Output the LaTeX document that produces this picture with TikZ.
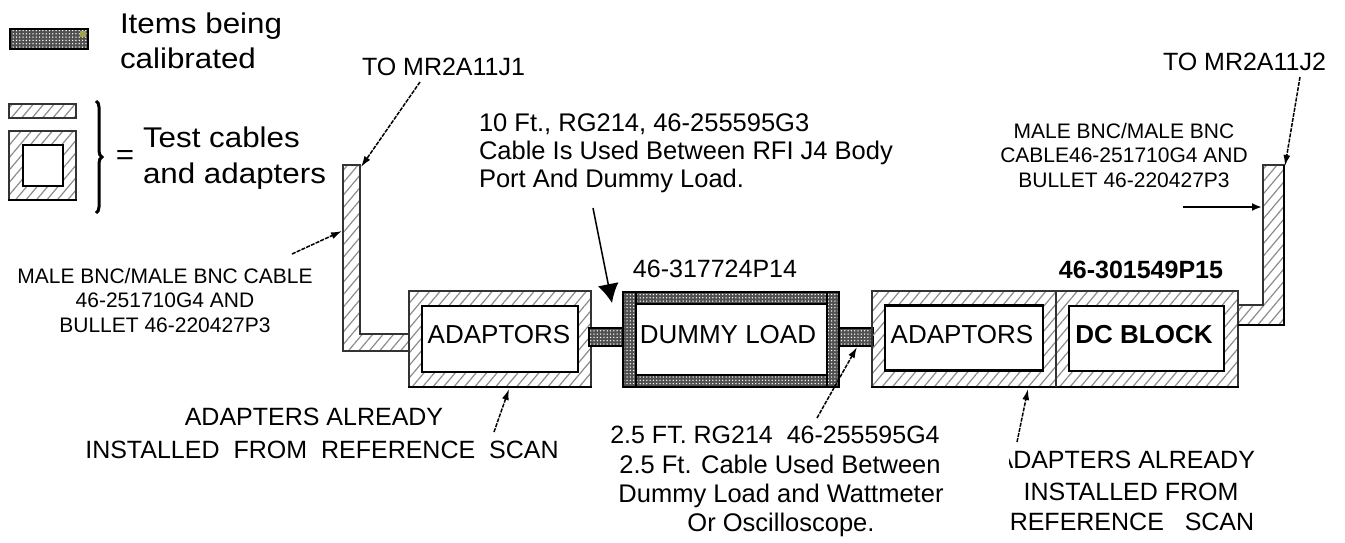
\documentclass[tikz,border=0pt]{standalone}
\usepackage{fontspec}
\setmainfont{Liberation Sans}
\newfontfamily\legfamily[FakeStretch=1.1]{Liberation Sans}
\usetikzlibrary{patterns.meta,arrows.meta,decorations.pathreplacing}
\definecolor{hatchgray}{HTML}{8C8C8C}
\definecolor{dotdark}{HTML}{505050}
\definecolor{edgegray}{HTML}{333333}
\definecolor{olive}{HTML}{A3A24A}
\newcommand{\tfleg}{\legfamily\fontsize{28.5}{32}\selectfont}
\newcommand{\tfdesc}{\fontsize{25.5}{30}\selectfont}
\newcommand{\tfcad}{\fontsize{25}{30}\selectfont}
\newcommand{\tfsmall}{\fontsize{21}{25}\selectfont}
\newcommand{\tfbox}{\fontsize{26}{30}\selectfont}
\tikzset{
  hatchbox/.style={draw=edgegray, line width=1.1pt, inner sep=0pt, outer sep=0pt,
    pattern={Lines[angle=50,distance=8pt,line width=1.2pt]}, pattern color=hatchgray},
  dotbox/.style={draw=black, line width=1.6pt, inner sep=0pt, outer sep=0pt,
    preaction={fill=dotdark}, pattern={Dots[radius=0.75pt,distance=3.3pt]}, pattern color=white},
  innerbox/.style={draw=black, line width=2.5pt, fill=white, inner sep=0pt, outer sep=0pt},
  txt/.style={inner sep=0pt, outer sep=0pt, anchor=base},
  callout/.style={line width=1.5pt, dash pattern=on 4pt off 1.2pt, -{Latex[length=11pt,width=7pt]}},
  bigcallout/.style={line width=1.5pt, -{Latex[length=19pt,width=21pt]}},
  solidcallout/.style={line width=2pt, -{Latex[length=10pt,width=8pt]}},
  heavyedge/.style={line width=2.6pt, line cap=rect}
}
\begin{document}
\begin{tikzpicture}[x=1pt,y=-1pt]
\useasboundingbox (0,0) rectangle (1345,542);
\fill[white] (0,0) rectangle (1345,542);

% ---------- legend ----------
\node[dotbox, minimum width=78pt, minimum height=20pt] (legdot) at (49,39) {};
\fill[olive] (80,31) rectangle (86,37);
\node[txt, anchor=base west, font=\tfleg] (legt1) at (120,33) {Items being};
\node[txt, anchor=base west, font=\tfleg] (legt2) at (120,68) {calibrated};
\node[hatchbox, minimum width=67pt, minimum height=14pt] (leghbar) at (42.5,111) {};
\node[hatchbox, minimum width=67pt, minimum height=69pt] (leghsq) at (42.5,165.5) {};
\draw[heavyedge] (leghsq.south west) -- (leghsq.south east);
\node[innerbox, line width=2pt, minimum width=40pt, minimum height=41pt] (leghin) at (43,165.5) {};
\coordinate (bracetop) at (96,101);
\coordinate (bracebot) at (96,213);
\draw[line width=3pt, decorate, decoration={brace, amplitude=6pt}] (bracetop) -- (bracebot);
\node[txt, font=\tfleg] (legeq) at (125,164) {=};
\node[txt, anchor=base west, font=\tfleg] (legt3) at (143,147) {Test cables};
\node[txt, anchor=base west, font=\tfleg] (legt4) at (143,183) {and adapters};

% ---------- left cable ----------
\draw[hatchbox] (343,165) -- (360,165) -- (360,334) -- (409,334) -- (409,351) -- (343,351) -- cycle;

% ---------- left adaptor box ----------
\node[hatchbox, minimum width=182pt, minimum height=96pt] (ad1) at (500,339) {};
\draw[heavyedge] (ad1.south west) -- (ad1.south east);
\node[innerbox, minimum width=156pt, minimum height=66pt] (ad1in) at (500,339) {};
\node[txt, font=\tfbox] (ad1t) at (499,343) {ADAPTORS};

% ---------- cables being calibrated ----------
\node[dotbox, line width=1.2pt, minimum width=34pt, minimum height=18pt] (cab1) at (606,337) {};
\node[dotbox, line width=1.2pt, minimum width=34pt, minimum height=18pt] (cab2) at (856,337) {};

% ---------- dummy load ----------
\node[dotbox, line width=2pt, minimum width=216pt, minimum height=95pt] (dl) at (731,339.5) {};
\node[innerbox, minimum width=191pt, minimum height=71pt] (dlin) at (731.5,339.5) {};
\draw[line width=2pt] (dlin.north west |- dl.north) -- (dlin.south west |- dl.south);
\draw[line width=2pt] (dlin.north east |- dl.north) -- (dlin.south east |- dl.south);
\node[txt, font=\tfbox] (dlt) at (728,343) {DUMMY LOAD};
\node[txt, font=\tfcad] (dlpn) at (715,277) {46-317724P14};

% ---------- right adaptor + DC block ----------
\node[hatchbox, minimum width=366pt, minimum height=96pt] (rg) at (1055,339) {};
\draw[heavyedge] (rg.south west) -- (rg.south east);
\draw[line width=1.2pt, edgegray] (1056,291) -- (1056,387);
\node[innerbox, minimum width=158pt, minimum height=65pt] (ad2in) at (964,338) {};
\node[txt, font=\tfbox] (ad2t) at (962,343) {ADAPTORS};
\node[innerbox, minimum width=155pt, minimum height=65pt] (dcin) at (1146.5,338.5) {};
\node[txt, font=\tfbox\bfseries] (dct) at (1144,343) {DC BLOCK};
\node[txt, font=\tfcad\bfseries] (dcpn) at (1141,278) {46-301549P15};

% ---------- right cable ----------
\draw[hatchbox] (1238,305) -- (1263,305) -- (1263,165) -- (1284,165) -- (1284,325) -- (1238,325) -- cycle;
\draw[heavyedge, line cap=butt] (1284,165) -- (1284,325) -- (1238,325);

% ---------- labels ----------
\node[txt, anchor=base west, font=\tfcad] (tomr1) at (362,75) {TO MR2A11J1};
\node[txt, anchor=base west, font=\tfcad] (tomr2) at (1163,70) {TO MR2A11J2};

\node[txt, anchor=base west, font=\tfdesc] (d1) at (479,131) {10 Ft., RG214, 46-255595G3};
\node[txt, anchor=base west, font=\tfdesc] (d2) at (479,159) {Cable Is Used Between RFI J4 Body};
\node[txt, anchor=base west, font=\tfdesc] (d3) at (479,187) {Port And Dummy Load.};

\node[txt, font=\tfsmall] (lm1) at (165,283) {MALE BNC/MALE BNC CABLE};
\node[txt, font=\tfsmall] (lm2) at (165,307) {46-251710G4 AND};
\node[txt, font=\tfsmall] (lm3) at (165,332) {BULLET 46-220427P3};

\node[txt, font=\tfsmall] (rm1) at (1124,138) {MALE BNC/MALE BNC};
\node[txt, font=\tfsmall] (rm2) at (1124,162) {CABLE46-251710G4 AND};
\node[txt, font=\tfsmall] (rm3) at (1124,187) {BULLET 46-220427P3};

\node[txt, font=\tfcad] (bl1) at (314,425) {ADAPTERS ALREADY};
\node[txt, font=\tfcad] (bl2) at (322,458) {INSTALLED\hspace{7pt} FROM\hspace{7pt} REFERENCE\hspace{7pt} SCAN};

\node[txt, font=\tfcad] (bc1) at (775,443) {2.5 FT. RG214\ \ 46-255595G4};
\node[txt, font=\tfdesc] (bc2) at (780,473) {2.5 Ft. Cable Used Between};
\node[txt, font=\tfdesc] (bc3) at (781,502) {Dummy Load and Wattmeter};
\node[txt, font=\tfdesc] (bc4) at (781,531) {Or Oscilloscope.};

\begin{scope}
  \clip (1009,440) rectangle (1300,476);
  \node[txt, anchor=base east, font=\tfcad] (br1) at (1255,468) {ADAPTERS ALREADY};
\end{scope}
\node[txt, font=\tfcad] (br2) at (1131,500) {INSTALLED FROM};
\node[txt, font=\tfcad] (br3) at (1132,530) {REFERENCE\ \ \ SCAN};

% ---------- callout arrows ----------
\coordinate (a1s) at (420,82);   \coordinate (a1e) at (361,167);
\coordinate (a2s) at (292,254);  \coordinate (a2e) at (342,231);
\coordinate (a3s) at (593,208);  \coordinate (a3e) at (612,303);
\coordinate (a4s) at (1300,77);  \coordinate (a4e) at (1285,166);
\coordinate (a5s) at (1183,207); \coordinate (a5e) at (1262,207);
\coordinate (a6s) at (494,432);  \coordinate (a6e) at (509,389);
\coordinate (a7s) at (817,418);  \coordinate (a7e) at (857,347);
\coordinate (a8s) at (1017,442); \coordinate (a8e) at (1028,389);
\draw[callout] (a1s) -- (a1e);
\draw[callout] (a2s) -- (a2e);
\draw[bigcallout] (a3s) -- (a3e);
\draw[callout] (a4s) -- (a4e);
\draw[solidcallout] (a5s) -- (a5e);
\draw[callout] (a6s) -- (a6e);
\draw[callout] (a7s) -- (a7e);
\draw[callout] (a8s) -- (a8e);
\end{tikzpicture}
\end{document}
